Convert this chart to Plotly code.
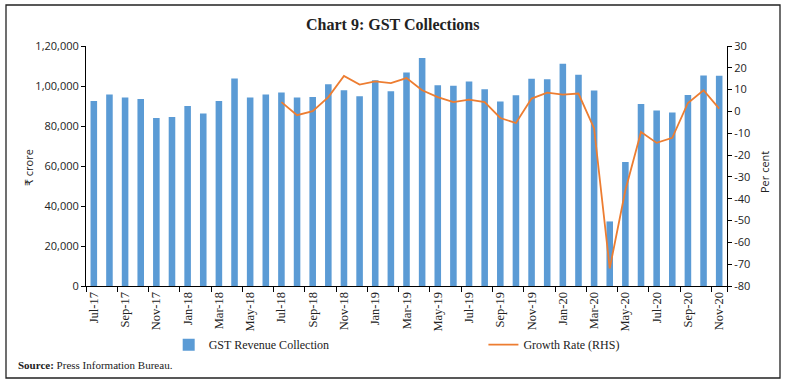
import plotly.graph_objects as go

months = ["Jul-17","Aug-17","Sep-17","Oct-17","Nov-17","Dec-17","Jan-18","Feb-18","Mar-18",
          "Apr-18","May-18","Jun-18","Jul-18","Aug-18","Sep-18","Oct-18","Nov-18","Dec-18",
          "Jan-19","Feb-19","Mar-19","Apr-19","May-19","Jun-19","Jul-19","Aug-19","Sep-19",
          "Oct-19","Nov-19","Dec-19","Jan-20","Feb-20","Mar-20","Apr-20","May-20","Jun-20",
          "Jul-20","Aug-20","Sep-20","Oct-20","Nov-20"]

gst_revenue = [92540, 95750, 94240, 93550, 84000, 84500, 90030, 86200, 92540,
               103780, 94240, 95750, 96750, 94240, 94540, 100920, 97900, 94900,
               102930, 97400, 106800, 113970, 100420, 100080, 102260, 98410, 92230,
               95400, 103600, 103430, 111110, 105590, 97750, 32280, 62000, 91030,
               87700, 86700, 95550, 105280, 105100]

growth_rate = [None]*12 + [4.3, -1.7, 0.1, 6.6, 16.3, 12.3, 13.8, 13.0, 15.3, 9.7, 6.6, 4.3,
               5.4, 4.3, -3.0, -5.3, 5.9, 8.6, 7.7, 8.2, -7.8, -71.9, -36.1, -9.4,
               -14.4, -12.1, 3.9, 9.7, 1.3]

left_ticks = [0, 20000, 40000, 60000, 80000, 100000, 120000]
left_tick_text = ["0", "20,000", "40,000", "60,000", "80,000", "1,00,000", "1,20,000"]
right_ticks = [-80, -70, -60, -50, -40, -30, -20, -10, 0, 10, 20, 30]
right_tick_text = [str(v) for v in right_ticks]
x_tick_labels = months[::2]

fig = go.Figure()
fig.add_trace(go.Bar(x=months, y=gst_revenue, name="GST Revenue Collection",
                     marker=dict(color="#5B9BD5", line=dict(width=0)), legend="legend"))
fig.add_trace(go.Scatter(x=months, y=growth_rate, name="Growth Rate (RHS)", yaxis="y2",
                         mode="lines", line=dict(color="#ED7D31", width=1.8), legend="legend2"))

sans = "Open Sans, DejaVu Sans, sans-serif"
serif = "Liberation Serif, DejaVu Serif, serif"

fig.update_layout(
    width=786, height=386,
    margin=dict(l=86, r=59, t=46, b=100),
    paper_bgcolor="white", plot_bgcolor="white",
    bargap=0.58,
    showlegend=True,
    xaxis=dict(type="category", tickmode="array", tickvals=x_tick_labels, ticktext=x_tick_labels,
               tickangle=-90, tickson="boundaries", ticks="outside", ticklen=5, tickcolor="black",
               showline=True, linecolor="black", linewidth=1, showgrid=False,
               tickfont=dict(family=serif, size=12.5, color="#222")),
    yaxis=dict(range=[0, 120000], tickmode="array", tickvals=left_ticks, ticktext=left_tick_text,
               ticks="outside", ticklen=4, tickcolor="black", showline=True, linecolor="black",
               linewidth=1, showgrid=False, zeroline=False,
               tickfont=dict(family=sans, size=11, color="#222")),
    yaxis2=dict(range=[-80, 30], tickmode="array", tickvals=right_ticks, ticktext=right_tick_text,
                overlaying="y", side="right",
                ticks="outside", ticklen=4, tickcolor="black", showline=True, linecolor="black",
                linewidth=1, showgrid=False, zeroline=False,
                tickfont=dict(family=sans, size=11, color="#222")),
    legend=dict(orientation="h", x=0.129, y=-0.184, xanchor="left", yanchor="top",
                font=dict(family=serif, size=12, color="#222"), bgcolor="rgba(0,0,0,0)"),
    legend2=dict(orientation="h", x=0.62, y=-0.184, xanchor="left", yanchor="top",
                 font=dict(family=serif, size=12, color="#222"), bgcolor="rgba(0,0,0,0)"),
    annotations=[
        dict(text="<b>Chart 9: GST Collections</b>", xref="paper", yref="paper",
             x=(392-86)/641, y=(286-24)/240, xanchor="center", yanchor="middle", showarrow=False,
             font=dict(family=serif, size=16, color="#222")),
        dict(text="₹ crore", xref="paper", yref="paper", x=(28-86)/641, y=(286-168)/240,
             textangle=-90, xanchor="center", yanchor="middle", showarrow=False,
             font=dict(family=sans, size=11, color="#222")),
        dict(text="Per cent", xref="paper", yref="paper", x=(764-86)/641, y=(286-172)/240,
             textangle=-90, xanchor="center", yanchor="middle", showarrow=False,
             font=dict(family=sans, size=11, color="#222")),
        dict(text="<b>Source:</b> Press Information Bureau.", xref="paper", yref="paper",
             x=(16-86)/641, y=(286-365)/240, xanchor="left", yanchor="middle", showarrow=False,
             font=dict(family=serif, size=11, color="#222")),
    ],
    shapes=[dict(type="rect", xref="paper", yref="paper",
                 x0=(6-86)/641, x1=(780-86)/641, y0=(286-378)/240, y1=(286-5)/240,
                 line=dict(color="#222", width=1.3), fillcolor="rgba(0,0,0,0)")],
)

fig.write_html("out.html", config={"displayModeBar": False},
               post_script="document.body.style.margin='0';")
